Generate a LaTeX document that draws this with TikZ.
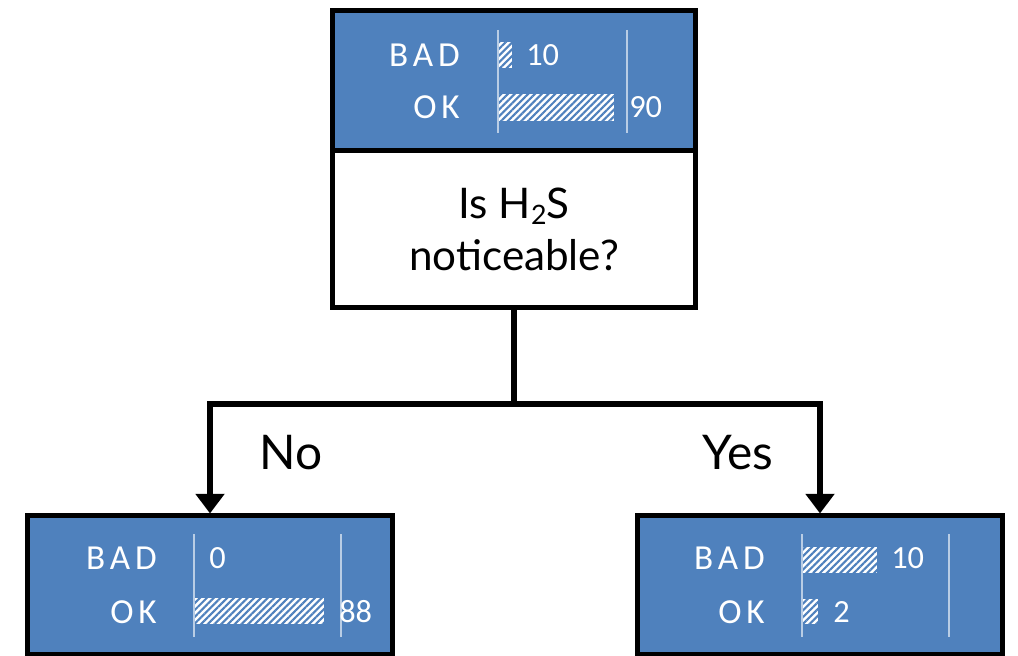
\documentclass[tikz,border=0pt]{standalone}
\usepackage{fontspec}
\setmainfont{Lato}
\newfontfamily\chartfont{Carlito}
\newfontfamily\catfont[LetterSpace=14]{Carlito}
\usepackage{tikz}
\usetikzlibrary{arrows.meta,patterns.meta,positioning,calc}
\definecolor{boxblue}{HTML}{4F81BD}
\definecolor{axisline}{HTML}{B9CDE5}
\newcommand{\lowtwo}{\raisebox{-0.28ex}{\fontsize{19}{19}\selectfont 2}}

\begin{document}
\begin{tikzpicture}[x=0.025cm,y=-0.025cm,
  chartbox/.style={draw=black,line width=3.6pt,fill=boxblue,minimum width=9.075cm,minimum height=3.51cm,inner sep=0pt,outer sep=0pt},
  leafbox/.style={chartbox,minimum width=9.125cm,minimum height=3.475cm},
  questionbox/.style={draw=black,line width=3.6pt,fill=white,minimum width=9.075cm,minimum height=3.91cm,inner sep=0pt,outer sep=0pt,align=center,font=\fontsize{30}{37}\selectfont},
  answer/.style={font=\fontsize{34}{40}\selectfont,inner sep=0pt},
  catlabel/.style={text=white,font=\catfont\fontsize{25}{28}\selectfont,anchor=east,inner sep=0pt},
  countlabel/.style={text=white,font=\chartfont\fontsize{23}{26}\selectfont,anchor=west,inner sep=0pt},
  axis/.style={draw=axisline,line width=1pt},
  hatch/.style={fill=white,postaction={pattern={Lines[angle=45,distance=3.4pt,line width=1.5pt]},pattern color=boxblue}},
  link/.style={draw=black,line width=3.6pt,-{Triangle[width=20pt,length=14pt]}}]
\useasboundingbox (0,0) rectangle (1018,656);

% boxes
\node[chartbox] (root) at (514,80.75) {};
\node[questionbox,below=0pt of root] (question) {Is H\lowtwo S\\noticeable?};
\node[leafbox] (leafno) at (210,585) {};
\node[leafbox] (leafyes) at (820,585) {};

% top chart
\draw[axis] (498,30) -- (498,133);
\draw[axis] (627,30) -- (627,133);
\path[hatch] (499,42) rectangle (512,68);
\path[hatch] (499,94) rectangle (614,121);
\node[catlabel] (rootbad) at (460,55) {BAD};
\node[catlabel] (rootok) at (460,107) {OK};
\node[countlabel] (rootbadn) at (526,55) {10};
\node[countlabel] (rootokn) at (629,107) {90};

% left chart
\draw[axis] (194,534) -- (194,637);
\draw[axis] (341,534) -- (341,637);
\path[hatch] (195,598) rectangle (324,624);
\node[catlabel] (nobad) at (157,558) {BAD};
\node[catlabel] (nook) at (157,612) {OK};
\node[countlabel] (nobadn) at (209,558) {0};
\node[countlabel] (nookn) at (339,612) {88};

% right chart
\draw[axis] (802,534) -- (802,637);
\draw[axis] (949,534) -- (949,637);
\path[hatch] (803,547) rectangle (877,573);
\path[hatch] (803,599) rectangle (818,624);
\node[catlabel] (yesbad) at (765,558) {BAD};
\node[catlabel] (yesok) at (765,612) {OK};
\node[countlabel] (yesbadn) at (891,558) {10};
\node[countlabel] (yesokn) at (833,612) {2};

% connectors
\coordinate (split) at (514,404);
\draw[line width=3.6pt] (question.south) -- (split);
\draw[link] (split) -| ($(leafno.north)+(0,-2)$);
\draw[link] (split) -| ($(leafyes.north)+(0,-2)$);
\node[answer] (no) at (291,453) {No};
\node[answer] (yes) at (738,453) {Yes};
\end{tikzpicture}
\end{document}
